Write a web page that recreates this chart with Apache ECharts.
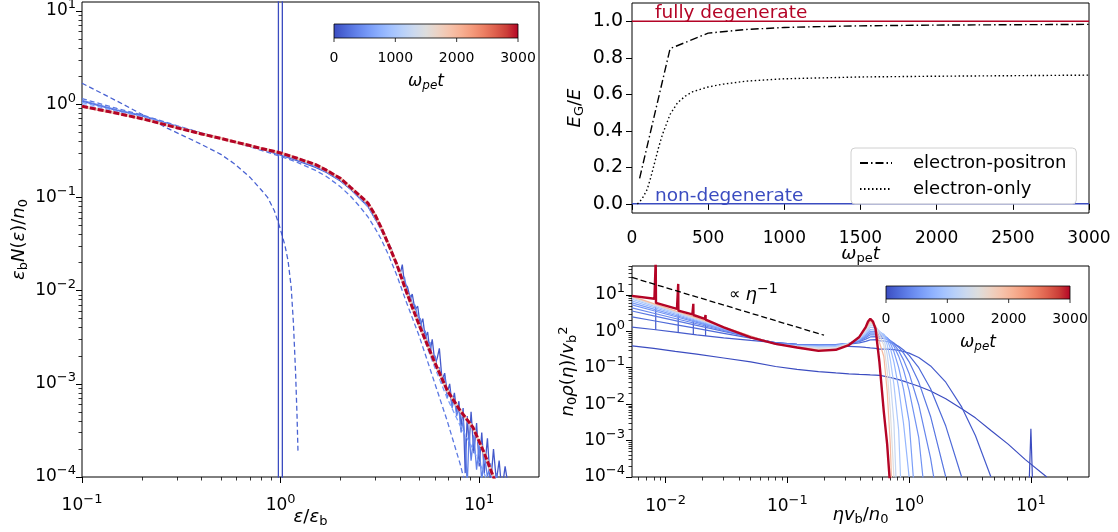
<!DOCTYPE html>
<html><head><meta charset="utf-8">
<script src="https://cdn.jsdelivr.net/npm/echarts@6/dist/echarts.min.js"></script>
<style>html,body{margin:0;padding:0;background:#fff}#c{width:1118px;height:532px}</style>
</head><body><div id="c"></div>
<script>
// ================= DATA =================
// ---- Left panel: eps_b N(eps)/n0 vs eps/eps_b ----
const EPS = [0.1, 0.15, 0.2, 0.3, 0.4, 0.5, 0.6, 0.7, 0.8, 1.0, 1.2, 1.5, 1.7, 2.0, 2.25, 2.5, 2.75, 3.0, 3.2, 3.5, 3.85, 4.3, 5.0, 5.9, 6.9, 8.0, 9.3, 10.5, 11.8, 13.0];
const N_T3000 = [0.95, 0.80, 0.70, 0.56, 0.48, 0.43, 0.39, 0.36, 0.335, 0.30, 0.265, 0.225, 0.196, 0.16, 0.128, 0.105, 0.087, 0.064, 0.048, 0.031, 0.019, 0.0097, 0.0042, 0.0018, 8.5e-4, 5.2e-4, 3.4e-4, 1.9e-4, 1.0e-4, 6e-5];
const N_FIT1 = [1.15, 0.90, 0.77, 0.59, 0.49, 0.43, 0.385, 0.35, 0.32, 0.275, 0.24, 0.195, 0.168, 0.13, 0.103, 0.08, 0.062, 0.046, 0.036, 0.024, 0.0145, 0.0075, 0.0032, 0.0011, 4e-4, 1.4e-4, 4e-5, null, null, null];
const N_FIT2 = [1.05, 0.84, 0.74, 0.57, 0.485, 0.43, 0.39, 0.355, 0.33, 0.29, 0.255, 0.215, 0.188, 0.152, 0.122, 0.098, 0.08, 0.058, 0.045, 0.03, 0.0185, 0.0093, 0.0041, 0.0016, 7e-4, 3.6e-4, 2.0e-4, 1.15e-4, 6e-5, null];
const N_FIT3 = [1.0, 0.82, 0.72, 0.565, 0.48, 0.43, 0.39, 0.36, 0.335, 0.298, 0.262, 0.222, 0.193, 0.157, 0.126, 0.103, 0.085, 0.062, 0.047, 0.031, 0.0195, 0.0098, 0.0042, 0.0018, 8.3e-4, 5e-4, 3.2e-4, 1.8e-4, 9e-5, null];
// noisy simulated spectra: head on EPS[0..17], tail on EPS_TAIL
const EPS_TAIL = [3.2, 3.35, 3.5, 3.6, 3.7, 3.85, 4.0, 4.1, 4.2, 4.35, 4.5, 4.6, 4.75, 4.9, 5.05, 5.2, 5.35, 5.5, 5.65, 5.8, 6.0, 6.15, 6.3, 6.5, 6.7, 6.9, 7.1, 7.3, 7.5, 7.7, 7.9, 8.1, 8.3, 8.5, 8.7, 8.9, 9.1, 9.4, 9.7, 10.0, 10.3, 10.6, 11.0, 11.4, 11.8, 12.2, 12.6, 13.0, 13.5, 14.0, 14.5];
const N_SIM1_HEAD = [1.08, 0.86, 0.75, 0.58, 0.49, 0.43, 0.39, 0.355, 0.33, 0.285, 0.25, 0.21, 0.185, 0.15, 0.122, 0.098, 0.08, 0.058];
const N_SIM1_TAIL = [0.047, 0.040, 0.030, 0.029, 0.023, 0.020, 0.015, 0.019, 0.012, 0.011, 0.0082, 0.0092, 0.0062, 0.0068, 0.0042, 0.0050, 0.0031, 0.0036, 0.0022, 0.0030, 0.0016, 0.0019, 0.0024, 0.0011, 0.0013, 8e-4, 0.0010, 6e-4, 8e-4, 5e-4, 6.5e-4, 3.5e-4, 5.5e-4, 1.1e-4, 4.5e-4, 2.2e-4, 5e-4, 1.8e-4, 3.8e-4, 1.3e-4, 3e-4, 1.1e-4, 2.6e-4, 8e-5, 2e-4, 9e-5, 1.5e-4, 7e-5, 1.3e-4, 8e-5, 5e-5];
const N_SIM2_HEAD = [1.1, 0.87, 0.76, 0.58, 0.49, 0.43, 0.39, 0.36, 0.335, 0.29, 0.255, 0.215, 0.19, 0.155, 0.125, 0.1, 0.083, 0.06];
const N_SIM2_TAIL = [0.045, 0.037, 0.032, 0.026, 0.024, 0.018, 0.016, 0.013, 0.014, 0.0095, 0.0088, 0.0072, 0.0070, 0.0052, 0.0050, 0.0036, 0.0037, 0.0026, 0.0028, 0.0019, 0.0020, 0.0014, 0.0015, 0.0010, 0.0012, 7e-4, 8.5e-4, 5.5e-4, 7e-4, 4.5e-4, 5.5e-4, 3e-4, 4e-4, 2.5e-4, 8e-5, 3e-4, 1.5e-4, 2.8e-4, 1.2e-4, 2.2e-4, 9e-5, 1.8e-4, 1e-4, 1.4e-4, 7e-5, 1.1e-4, 6e-5, null, null, null, null];
// t = 0: fit (dashed) and beam spike (solid)
const EPS_T0FIT = [0.1, 0.15, 0.2, 0.27, 0.33, 0.4, 0.5, 0.58, 0.7, 0.8, 0.86, 0.93, 0.99, 1.05, 1.09, 1.13, 1.16, 1.19, 1.21, 1.224];
const N_T0FIT = [1.68, 1.08, 0.78, 0.55, 0.45, 0.37, 0.29, 0.233, 0.165, 0.12, 0.10, 0.072, 0.048, 0.031, 0.021, 0.011, 0.0045, 0.0013, 4.5e-4, 1.8e-4];
const EPS_T0 = [0.9745, 0.975, 1.02, 1.0205];
const N_T0 = [1e-6, 1e3, 1e3, 1e-6];

// ---- Top right: E_G/E vs omega_pe t ----
const T_EP = [50, 250, 500, 750, 1000, 1250, 1500, 1750, 2000, 2250, 2500, 2750, 3000];
const EG_EP = [0.14, 0.85, 0.935, 0.955, 0.966, 0.971, 0.975, 0.977, 0.979, 0.98, 0.981, 0.982, 0.983];
const T_EO = [35, 50, 75, 100, 125, 150, 175, 200, 250, 300, 350, 400, 500, 600, 750, 1000, 1250, 1500, 2000, 2500, 3000];
const EG_EO = [0.0, 0.01, 0.04, 0.08, 0.15, 0.23, 0.31, 0.38, 0.49, 0.555, 0.59, 0.615, 0.64, 0.656, 0.672, 0.685, 0.69, 0.695, 0.699, 0.702, 0.705];
const T_REF = [0, 3000];
const EG_FULL = [1, 1];
const EG_NONE = [0, 0];

// ---- Bottom right: n0 rho(eta)/vb^2 vs eta vb/n0 ----
const ETA = [0.0053, 0.008, 0.012, 0.018, 0.03, 0.05, 0.08, 0.12, 0.18, 0.25, 0.32, 0.39, 0.44, 0.48, 0.53, 0.57, 0.62, 0.66, 0.7, 0.75, 0.82, 0.9, 1.0, 1.2, 1.5, 2.0, 2.7, 3.5, 4.7, 6.5, 9, 13.5];
const RHO_T0 = [0.40, 0.34, 0.28, 0.235, 0.185, 0.145, 0.108, 0.09, 0.078, 0.072, 0.068, 0.066, 0.065, 0.064, 0.063, 0.062, 0.059, 0.056, 0.054, 0.051, 0.047, 0.043, 0.038, 0.031, 0.023, 0.014, 0.0075, 0.0042, 0.0019, 8e-4, 3e-4, 1e-4];
const RHO_T100 = [1.3, 1.12, 0.95, 0.8, 0.66, 0.56, 0.49, 0.44, 0.41, 0.395, 0.385, 0.375, 0.36, 0.35, 0.34, 0.325, 0.324, 0.323, 0.319, 0.312, 0.299, 0.279, 0.251, 0.19, 0.112, 0.040, 0.0084, 0.00138, 1e-4, null, null, null];
const RHO_T200 = [2.5, 1.95, 1.53, 1.2, 0.88, 0.65, 0.49, 0.44, 0.42, 0.42, 0.44, 0.48, 0.53, 0.58, 0.59, 0.55, 0.542, 0.524, 0.497, 0.455, 0.386, 0.307, 0.219, 0.1, 0.0265, 0.0025, 1e-4, null, null, null, null, null];
const RHO_T300 = [3.6, 2.65, 1.96, 1.45, 0.99, 0.68, 0.48, 0.43, 0.42, 0.43, 0.46, 0.52, 0.61, 0.70, 0.71, 0.65, 0.635, 0.601, 0.552, 0.476, 0.366, 0.251, 0.145, 0.0403, 0.0046, 1e-4, null, null, null, null, null, null];
const RHO_T400 = [4.4, 3.13, 2.24, 1.61, 1.05, 0.69, 0.47, 0.43, 0.42, 0.43, 0.47, 0.54, 0.67, 0.80, 0.80, 0.72, 0.695, 0.637, 0.557, 0.445, 0.294, 0.164, 0.0698, 0.0095, 3.3e-4, 1e-6, null, null, null, null, null, null];
const RHO_T500 = [5.3, 3.66, 2.54, 1.76, 1.11, 0.70, 0.46, 0.42, 0.41, 0.42, 0.47, 0.56, 0.72, 0.90, 0.89, 0.80, 0.758, 0.667, 0.546, 0.387, 0.208, 0.087, 0.024, 0.0012, 1e-6, null, null, null, null, null, null, null];
const RHO_T600 = [6.0, 4.05, 2.75, 1.87, 1.15, 0.705, 0.45, 0.41, 0.40, 0.41, 0.47, 0.58, 0.78, 1.0, 0.98, 0.87, 0.799, 0.65, 0.474, 0.275, 0.1026, 0.0255, 0.0033, 1e-6, null, null, null, null, null, null, null, null];
const RHO_T800 = [6.8, 4.49, 2.98, 1.98, 1.18, 0.707, 0.44, 0.40, 0.39, 0.40, 0.47, 0.60, 0.84, 1.12, 1.08, 0.95, 0.826, 0.59, 0.349, 0.143, 0.028, 0.0029, 1e-4, null, null, null, null, null, null, null, null, null];
const RHO_T1000 = [7.6, 4.93, 3.22, 2.11, 1.23, 0.72, 0.44, 0.40, 0.38, 0.39, 0.47, 0.62, 0.92, 1.3, 1.22, 1.0, 0.78, 0.43, 0.17, 0.035, 0.00195, 1e-6, null, null, null, null, null, null, null, null, null, null];
const RHO_T1250 = [8.2, 5.26, 3.40, 2.20, 1.27, 0.73, 0.44, 0.39, 0.36, 0.37, 0.46, 0.64, 1.0, 1.5, 1.35, 1.0, 0.65, 0.233, 0.047, 0.0031, 1e-6, null, null, null, null, null, null, null, null, null, null, null];
const RHO_T1500 = [8.7, 5.53, 3.54, 2.27, 1.29, 0.74, 0.44, 0.38, 0.34, 0.35, 0.45, 0.66, 1.1, 1.7, 1.4, 0.8, 0.412, 0.083, 0.007, 1e-4, null, null, null, null, null, null, null, null, null, null, null, null];
const RHO_T2000 = [9.1, 5.75, 3.66, 2.33, 1.32, 0.745, 0.44, 0.37, 0.31, 0.32, 0.43, 0.68, 1.2, 1.9, 1.4, 0.5, 0.203, 0.0234, 8.1e-4, 1e-6, null, null, null, null, null, null, null, null, null, null, null, null];
const ETA_T3000 = [0.0053, 0.0081, 0.00826, 0.0083, 0.00834, 0.0086, 0.0124, 0.01266, 0.0127, 0.01274, 0.013, 0.0166, 0.01686, 0.0169, 0.01694, 0.0172, 0.021, 0.02126, 0.0213, 0.02134, 0.0216, 0.03, 0.05, 0.08, 0.12, 0.18, 0.25, 0.32, 0.39, 0.44, 0.46, 0.48, 0.505, 0.53, 0.57, 0.62, 0.66, 0.69, 0.72];
const RHO_T3000 = [9.4, 7.8, 7.7, 90, 6.0, 5.8, 4.1, 4.0, 20, 3.7, 3.6, 2.9, 2.85, 5.7, 2.8, 2.75, 2.2, 2.15, 2.8, 2.1, 2.05, 1.28, 0.68, 0.45, 0.36, 0.29, 0.31, 0.42, 0.70, 1.3, 1.85, 2.2, 1.85, 1.16, 0.145, 0.006, 8e-4, 1e-4, 1e-6];
const SPIKE_ETA = [0.0083, 0.0127, 0.0169, 0.0213];
const SPIKE_BASE_T100 = [1.1, 0.93, 0.82, 0.74];
const SPIKE_TOP_T100 = [5.5, 3.4, 2.5, 2.0];
const ETA_BEAM = [9.5, 10.0, 10.5];
const RHO_BEAM = [1e-5, 0.0021, 1e-5];
const ETA_GUIDE = [0.0053, 0.2];
const RHO_GUIDE = [30, 0.78];
const TIMES_BR = [0, 100, 200, 300, 400, 500, 600, 800, 1000, 1250, 1500, 2000, 3000];

// ---- axis limits and tick labels ----
const L_XLIM = [0.1, 20], L_YLIM = [1e-4, 12.5];
const TR_XLIM = [0, 3000], TR_YLIM = [-0.05, 1.1];
const BR_XLIM = [0.0053, 30], BR_YLIM = [1e-4, 62];
const L_XTICKS = [0.1, 1, 10];
const L_YTICKS = [1e-4, 1e-3, 1e-2, 1e-1, 1, 10];
const TR_XTICKS = [0, 500, 1000, 1500, 2000, 2500, 3000];
const TR_YTICKS = [0, 0.2, 0.4, 0.6, 0.8, 1.0];
const BR_XTICKS = [0.01, 0.1, 1, 10];
const BR_YTICKS = [1e-4, 1e-3, 1e-2, 1e-1, 1, 10];
const CBAR_TICKS = [0, 1000, 2000, 3000];
const TMAX = 3000;

// ================= STYLE / HELPERS =================
const FONT = 'DejaVu Sans';
const CW = [[59,76,192],[77,104,215],[98,130,234],[119,154,247],[141,176,254],[163,194,255],[184,208,249],[204,217,238],[221,221,221],[236,211,197],[245,196,173],[247,177,148],[244,154,123],[236,127,99],[222,96,77],[203,62,56],[180,4,38]];
function cw(f){ f=Math.max(0,Math.min(1,f)); const p=f*(CW.length-1); const i=Math.min(CW.length-2,Math.floor(p)); const t=p-i;
  const c=CW[i].map((v,k)=>Math.round(v+(CW[i+1][k]-v)*t)); return 'rgb('+c.join(',')+')'; }
function pairs(xs, ys){ const out=[]; for(let i=0;i<xs.length;i++){ if(ys[i]!=null) out.push([xs[i], ys[i]]); } return out; }
function minorTicks(lo, hi){ const v=[]; for(let e=Math.floor(Math.log10(lo))-1;e<=Math.ceil(Math.log10(hi));e++){ for(let k=2;k<=9;k++){ const x=k*Math.pow(10,e); if(x>=lo*1.0001&&x<=hi*0.9999) v.push(x);} } return v; }
function powLabel(v){ const e=Math.round(Math.log10(v)); return '{b|10}{s|'+(e<0?'\u2212'+(-e):String(e))+'}'; }
const TICK_RICH = { b:{fontSize:17,fontFamily:FONT,color:'#000'}, s:{fontSize:13,fontFamily:FONT,color:'#000',padding:[0,0,12,0]} };
const NAME_RICH = {
  i:{fontSize:18,fontFamily:FONT,fontStyle:'italic',color:'#000'},
  r:{fontSize:18,fontFamily:FONT,color:'#000'},
  sub:{fontSize:13,fontFamily:FONT,color:'#000',padding:[9,0,0,0]},
  subi:{fontSize:13,fontFamily:FONT,fontStyle:'italic',color:'#000',padding:[9,0,0,0]},
  sup:{fontSize:13,fontFamily:FONT,color:'#000',padding:[0,0,10,0]}
};
function logAxes(dim, grid, lim, majors, name, gap, labelMargin){
  const pos = dim==='x' ? 'bottom' : 'left';
  return [{
    type:'log', logBase:10, gridIndex:grid, min:lim[0], max:lim[1], position:pos, offset:0,
    axisLine:{show:false}, splitLine:{show:false},
    axisTick:{show:true, customValues:majors, length:6, lineStyle:{color:'#000',width:1}},
    axisLabel:{show:true, customValues:majors, formatter:powLabel, rich:TICK_RICH, margin:labelMargin},
    name:name, nameLocation:'middle', nameGap:gap, nameMoveOverlap:false, nameTextStyle:{rich:NAME_RICH}
  },{
    type:'log', logBase:10, gridIndex:grid, min:lim[0], max:lim[1], position:pos, offset:0,
    axisLine:{show:false}, splitLine:{show:false}, axisLabel:{show:false},
    axisTick:{show:true, customValues:minorTicks(lim[0],lim[1]), length:3.5, lineStyle:{color:'#000',width:0.8}}
  }];
}
function line(xi, yi, data, color, width, type, extra){
  return Object.assign({type:'line', xAxisIndex:xi, yAxisIndex:yi, data:data, symbol:'none', silent:true,
    lineStyle:{color:color, width:width, type:type||'solid'}, itemStyle:{color:color}, animation:false, clip:true}, extra||{});
}

// ================= AXES =================
const [lx0, lx1] = logAxes('x', 0, L_XLIM, L_XTICKS, '{i|\u03b5}{r|/}{i|\u03b5}{sub|b}', 29, 16);
const [ly0, ly1] = logAxes('y', 0, L_YLIM, L_YTICKS, '{i|\u03b5}{sub|b}{i|N}{r|(}{i|\u03b5}{r|)/}{i|n}{sub|0}', 52, 6);
const [bx0, bx1] = logAxes('x', 2, BR_XLIM, BR_XTICKS, '{i|\u03b7v}{sub|b}{r|/}{i|n}{sub|0}', 27, 17);
const [by0, by1] = logAxes('y', 2, BR_YLIM, BR_YTICKS, '{i|n}{sub|0}{i|\u03c1}{r|(}{i|\u03b7}{r|)/}{i|v}{sub|b}{sup|2}', 52, 7);
const tx = {type:'value', gridIndex:1, min:TR_XLIM[0], max:TR_XLIM[1], position:'bottom',
  axisLine:{show:false}, splitLine:{show:false},
  axisTick:{show:true, customValues:TR_XTICKS, length:6, lineStyle:{color:'#000'}},
  axisLabel:{customValues:TR_XTICKS, fontSize:17, fontFamily:FONT, color:'#000', margin:17, formatter:v=>String(v)},
  name:'{i|\u03c9}{sub|pe}{i|t}', nameLocation:'middle', nameGap:30, nameMoveOverlap:false, nameTextStyle:{rich:NAME_RICH}};
const ty = {type:'value', gridIndex:1, min:TR_YLIM[0], max:TR_YLIM[1], position:'left',
  axisLine:{show:false}, splitLine:{show:false},
  axisTick:{show:true, customValues:TR_YTICKS, length:6, lineStyle:{color:'#000'}},
  axisLabel:{customValues:TR_YTICKS, fontSize:19, fontFamily:FONT, color:'#000', margin:9, formatter:v=>v.toFixed(1)},
  name:'{i|E}{sub|G}{r|/}{i|E}', nameLocation:'middle', nameGap:46, nameMoveOverlap:false, nameTextStyle:{rich:NAME_RICH}};

// ================= SERIES =================
const series = [];
// Left panel
series.push(line(0,0,pairs(EPS_T0FIT,N_T0FIT), cw(0.05), 1.3, [5,3]));
series.push(line(0,0,pairs(EPS_T0,N_T0), cw(0), 1.3));
series.push(line(0,0,pairs(EPS.slice(0,18).concat(EPS_TAIL), N_SIM1_HEAD.concat(N_SIM1_TAIL)), cw(0.03), 1.3));
series.push(line(0,0,pairs(EPS.slice(0,18).concat(EPS_TAIL), N_SIM2_HEAD.concat(N_SIM2_TAIL)), cw(0.12), 1.3));
series.push(line(0,0,pairs(EPS,N_FIT1), cw(0.1), 1.3, [5,3]));
series.push(line(0,0,pairs(EPS,N_FIT2), cw(0.2), 1.3, [5,3]));
series.push(line(0,0,pairs(EPS,N_FIT3), cw(0.3), 1.3, [5,3]));
series.push(line(0,0,pairs(EPS,N_T3000), cw(0.6), 2.8));
series.push(line(0,0,pairs(EPS,N_T3000), cw(1), 3, [6,2]));
// Top right panel
series.push(line(2,2,pairs(T_REF,EG_FULL), cw(1), 1.5));
series.push(line(2,2,pairs(T_REF,EG_NONE), cw(0), 1.5));
series.push(line(2,2,pairs(T_EP,EG_EP), '#000', 1.4, [8,3,1.5,3], {name:'electron-positron'}));
series.push(line(2,2,pairs(T_EO,EG_EO), '#000', 1.4, [1.5,2.5], {name:'electron-only'}));
// Bottom right panel
const RHO_LINES = [RHO_T0, RHO_T100, RHO_T200, RHO_T300, RHO_T400, RHO_T500, RHO_T600, RHO_T800, RHO_T1000, RHO_T1250, RHO_T1500, RHO_T2000];
RHO_LINES.forEach((ys, k) => {
  const col = cw(TIMES_BR[k]/TMAX);
  series.push(line(3,3,pairs(ETA,ys), col, 1.2));
  if (k===0) series.push(line(3,3,pairs(ETA_BEAM,RHO_BEAM), col, 1.2));
  if (k===1) SPIKE_ETA.forEach((x,j)=>series.push(line(3,3,[[x,SPIKE_BASE_T100[j]],[x,SPIKE_TOP_T100[j]]], col, 1.2)));
});
series.push(line(3,3,pairs(ETA_T3000,RHO_T3000), cw(1), 2.4));
series.push(line(3,3,pairs(ETA_GUIDE,RHO_GUIDE), '#000', 1.3, [6,3]));

// ================= GRAPHICS (colorbars, annotations) =================
const stops = CW.map((c,i)=>({offset:i/(CW.length-1), color:'rgb('+c.join(',')+')'}));
function colorbar(x, y, w, h){
  const g = [{type:'rect', shape:{x:x,y:y,width:w,height:h}, style:{fill:{type:'linear',x:0,y:0,x2:1,y2:0,colorStops:stops}, stroke:'#000', lineWidth:0.8}, silent:true, z:100}];
  CBAR_TICKS.forEach(v=>{
    const px = x + w*v/TMAX;
    g.push({type:'line', shape:{x1:px,y1:y+h,x2:px,y2:y+h+4}, style:{stroke:'#000',lineWidth:0.8}, silent:true, z:100});
    g.push({type:'text', x:px, y:y+h+20, style:{text:String(v), fontSize:14, fontFamily:FONT, fill:'#000', align:'center', verticalAlign:'middle'}, silent:true, z:100});
  });
  g.push({type:'text', x:x+w/2, y:y+h+44, style:{text:'{i|\u03c9}{s|pe}{i|t}', align:'center', verticalAlign:'middle',
    rich:{i:{fontSize:17,fontFamily:FONT,fontStyle:'italic',fill:'#000'}, s:{fontSize:12,fontFamily:FONT,fontStyle:'italic',fill:'#000',padding:[8,0,0,0]}}}, silent:true, z:100});
  return g;
}
const graphics = [].concat(
  colorbar(334, 24, 184, 14),
  colorbar(886, 286, 184, 13),
  [
    {type:'text', x:655, y:13, style:{text:'fully degenerate', fontSize:18.5, fontFamily:FONT, fill:cw(1), align:'left', verticalAlign:'middle'}, silent:true, z:100},
    {type:'text', x:655, y:196, style:{text:'non-degenerate', fontSize:18.5, fontFamily:FONT, fill:cw(0), align:'left', verticalAlign:'middle'}, silent:true, z:100},
    {type:'text', x:729, y:295, style:{text:'{r|\u221d }{i|\u03b7}{s|\u22121}', align:'left', verticalAlign:'middle',
      rich:{r:{fontSize:16,fontFamily:FONT,fill:'#000'}, i:{fontSize:18,fontFamily:FONT,fontStyle:'italic',fill:'#000'}, s:{fontSize:14,fontFamily:FONT,fill:'#000',padding:[0,0,12,0]}}}, silent:true, z:100}
  ]
);

// ================= CHART =================
const chart = echarts.init(document.getElementById('c'), null, {renderer:'canvas'});
const gridBase = {show:true, borderColor:'#000', borderWidth:1, backgroundColor:'transparent', containLabel:false, outerBoundsMode:'none'};
chart.setOption({
  animation:false,
  backgroundColor:'#fff',
  textStyle:{fontFamily:FONT},
  grid:[
    Object.assign({left:82, top:2, width:457, height:475}, gridBase),
    Object.assign({left:632, top:3, width:457, height:210}, gridBase),
    Object.assign({left:632, top:266, width:457, height:211}, gridBase)
  ],
  xAxis:[lx0, lx1, tx, bx0, bx1],
  yAxis:[ly0, ly1, ty, by0, by1],
  legend:{show:true, data:['electron-positron','electron-only'], orient:'vertical', left:851, top:148,
    padding:[6,10,6,8], itemGap:8, itemWidth:32, itemHeight:14, borderColor:'#d0d0d0', borderWidth:1, borderRadius:4,
    backgroundColor:'rgba(255,255,255,0.85)', selectedMode:false, itemStyle:{opacity:0},
    textStyle:{fontSize:18, fontFamily:FONT, color:'#000', padding:[0,0,0,16]}},
  series:series,
  graphic:graphics
});
</script></body></html>
